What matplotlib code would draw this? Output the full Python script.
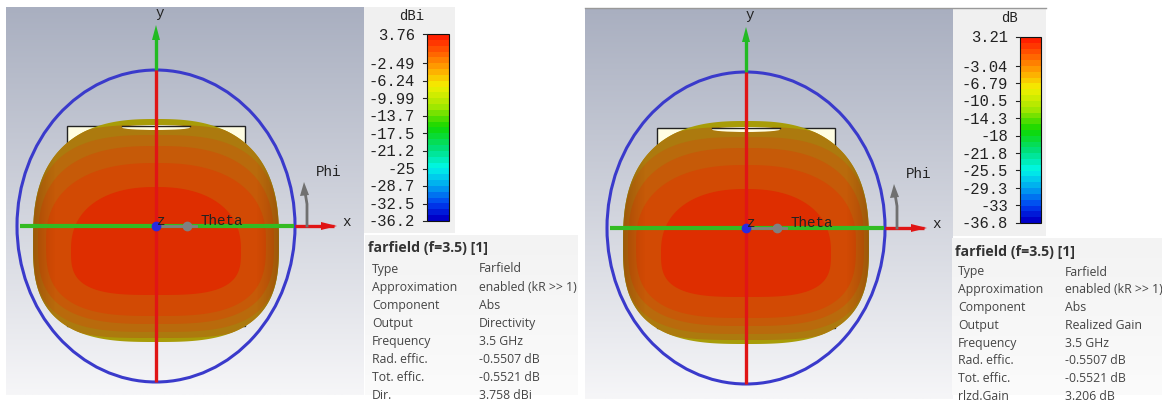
import numpy as np
import matplotlib
matplotlib.use("Agg")
import matplotlib.pyplot as plt
from matplotlib.colors import LinearSegmentedColormap, Normalize, to_rgb
from matplotlib.patches import Ellipse, Polygon, Rectangle

left_unit = "dBi"
left_ticks = ["3.76", "-2.49", "-6.24", "-9.99", "-13.7", "-17.5", "-21.2", "-25", "-28.7", "-32.5", "-36.2"]
right_unit = "dB"
right_ticks = ["3.21", "-3.04", "-6.79", "-10.5", "-14.3", "-18", "-21.8", "-25.5", "-29.3", "-33", "-36.8"]

# info tables
info_title = "farfield (f=3.5) [1]"
left_names = ["Type", "Approximation", "Component", "Output", "Frequency", "Rad. effic.", "Tot. effic.", "Dir."]
left_values = ["Farfield", "enabled (kR >> 1)", "Abs", "Directivity", "3.5 GHz", "-0.5507 dB", "-0.5521 dB", "3.758 dBi"]
right_names = ["Type", "Approximation", "Component", "Output", "Frequency", "Rad. effic.", "Tot. effic.", "rlzd.Gain"]
right_values = ["Farfield", "enabled (kR >> 1)", "Abs", "Realized Gain", "3.5 GHz", "-0.5507 dB", "-0.5521 dB", "3.206 dB"]

# scale colours, bottom of the bar first
scale_colors = ["#0000c8", "#0040f0", "#00a8f0", "#00f8e8", "#00e080", "#10d800", "#a8e800",
                "#f4f000", "#ffa800", "#ff6a00", "#ff2000"]
scale_stops = [0, 0.08, 0.18, 0.28, 0.38, 0.5, 0.62, 0.73, 0.82, 0.9, 1]
blob_colors = ["#a89c08", "#ac7a0e", "#b96a0c", "#c65a08", "#d24a04", "#de2e00"]

MONO = "Liberation Mono"
SANS = "Open Sans"

fig = plt.figure(figsize=(11.62, 4.03), dpi=100)
ax = fig.add_axes([0, 0, 1, 1])
ax.axis("off")

scale_cmap = LinearSegmentedColormap.from_list("farfield", list(zip(scale_stops, scale_colors)), N=32)


def gradient(x0, x1, y0, y1, top, bottom, z=0):
    # vertical colour ramp
    t = np.linspace(0, 1, 256)[:, None, None]
    img = np.array(to_rgb(top)) * (1 - t) + np.array(to_rgb(bottom)) * t
    return ax.imshow(img, extent=(x0, x1, y1, y0), aspect="auto", zorder=z)


def blob(cx, cy, half_w, up, down, n_up, n_down):
    # rounded outline, upper and lower halves have their own height and squareness
    a = np.linspace(0, 2 * np.pi, 400)
    c, s = np.cos(a), np.sin(a)
    n = np.where(s < 0, n_up, n_down)
    x = np.sign(c) * np.abs(c) ** (2 / n) * half_w
    y = np.sign(s) * np.abs(s) ** (2 / n)
    y = np.where(y < 0, y * up, y * down)
    return np.column_stack([cx + x, cy + y])


def globe(dx, dy):
    cx, cy = 156 + dx, 226 + dy
    wy = 242 + dy

    # substrate behind the pattern
    ax.add_patch(Rectangle((67 + dx, 126 + dy), 178, 200, fc="#fffde2", ec="#222222", lw=1, zorder=2))

    # half width, shift, up, down, top and bottom squareness of each band
    layers = [(123, 0, 123, 100, 2.6, 2.9), (123, 0, 117, 96, 3.4, 3.6), (122, 0, 107, 90, 2.9, 3.2),
              (118, 0, 96, 82, 2.6, 3.0), (110, 0, 79, 74, 2.4, 3.0), (85, 8, 63, 45, 2.3, 3.2)]
    outer = None
    for i, (w, shift, up, down, n_up, n_down) in enumerate(layers):
        poly = Polygon(blob(cx, wy + shift, w, up, down, n_up, n_down), fc=blob_colors[i], ec="none", zorder=3 + i * 0.1)
        ax.add_patch(poly)
        if i == 0:
            outer = poly
        else:
            poly.set_clip_path(outer)

    # darker towards the rim
    yy, xx = np.mgrid[-1:1:200j, -1:1:200j]
    shade = np.zeros((200, 200, 4))
    shade[..., 0] = 0.3
    shade[..., 1] = 0.12
    shade[..., 3] = np.clip((np.abs(xx) ** 4 - 0.45) * 0.45, 0, 0.3)
    im = ax.imshow(shade, extent=(cx - 123, cx + 123, wy + 100, wy - 123), aspect="auto", zorder=4)
    im.set_clip_path(outer)

    # slot in the top of the pattern
    ax.add_patch(Ellipse((cx, 127.5 + dy), 68, 5, fc="#fffde2", ec="none", zorder=5))
    ax.plot([cx - 34, cx + 34], [126 + dy, 126 + dy], color="#222222", lw=1, zorder=5)

    # far field circle
    ax.add_patch(Ellipse((cx, cy), 278, 312, fc="none", ec="#3a3acb", lw=2.2, zorder=6))

    # axes
    ax.plot([cx, cx], [cy - 156, cy - 188], color="#22bb22", lw=2.4, zorder=7, solid_capstyle="butt")
    ax.add_patch(Polygon([(cx, cy - 201), (cx - 4, cy - 186), (cx + 4, cy - 186)], fc="#22bb22", ec="none", zorder=7))
    ax.plot([cx, cx], [cy - 156, cy + 156], color="#e01515", lw=2.4, zorder=7, solid_capstyle="butt")
    ax.plot([cx + 139, cx + 178], [cy, cy], color="#e01515", lw=2.4, zorder=7, solid_capstyle="butt")
    ax.add_patch(Polygon([(cx + 181, cy), (cx + 165, cy - 4), (cx + 165, cy + 4)], fc="#e01515", ec="none", zorder=7))
    ax.plot([cx - 136, cx + 138], [cy, cy], color="#33bb22", lw=3, zorder=7, solid_capstyle="butt")

    # theta and phi markers
    ax.plot([cx, cx + 40], [cy, cy], color="#808080", lw=2, zorder=8)
    ax.plot(cx + 31, cy, "o", color="#808080", ms=6, zorder=8)
    ax.plot(cx, cy, "o", color="#2a2ae0", ms=6, zorder=9)
    ax.plot([cx + 151, cx + 151, cx + 149], [cy, cy - 22, cy - 34], color="#707070", lw=2, zorder=8)
    ax.add_patch(Polygon([(cx + 148, cy - 44), (cx + 144, cy - 30), (cx + 153, cy - 31)], fc="#707070", ec="none", zorder=8))

    for label, x, y in [("y", cx + 4, cy - 213), ("x", cx + 191, cy - 4), ("Phi", cx + 173, cy - 54),
                        ("Theta", cx + 66, cy - 5), ("z", cx + 5, cy - 5)]:
        ax.text(x, y, label, family=MONO, fontsize=10.3, color="#222222", ha="center", va="center", zorder=10)


def scale(x0, x1, y0, y1, unit, unit_x, unit_y, ticks):
    values = [float(t) for t in ticks]
    norm = Normalize(values[-1], values[0])
    img = np.linspace(values[0], values[-1], 256)[:, None]
    ax.imshow(img, extent=(x0, x1, y1, y0), aspect="auto", cmap=scale_cmap, norm=norm,
              interpolation="nearest", zorder=3)
    ax.add_patch(Rectangle((x0, y0), x1 - x0, y1 - y0, fc="none", ec="#111111", lw=0.8, zorder=4))
    for t, v in zip(ticks, values):
        y = y0 + (values[0] - v) / (values[0] - values[-1]) * (y1 - y0)
        ax.plot([x0 - 4, x0], [y, y], color="#222222", lw=0.8, zorder=4)
        ax.text(x0 - 12, y + 1, t, family=MONO, fontsize=11.2, color="#222222", ha="right", va="center", zorder=4)
    ax.text(unit_x, unit_y, unit, family=MONO, fontsize=10, color="#222222", ha="center", va="center", zorder=4)


def info(title_x, title_y, name_x, value_x, row_y, row_h, names, values):
    ax.text(title_x, title_y, info_title, family=SANS, fontsize=10.2, fontweight="bold", color="#333333", va="center", zorder=4)
    for i, (n, v) in enumerate(zip(names, values)):
        y = row_y + i * row_h
        ax.text(name_x, y, n, family=SANS, fontsize=8.8, color="#444444", va="center", zorder=4)
        ax.text(value_x, y, v, family=SANS, fontsize=8.8, color="#444444", va="center", zorder=4)


# left view
gradient(6, 364, 7, 395, "#a9afc0", "#f6f6f8")
ax.add_patch(Rectangle((364, 7), 91, 226, fc="#f0f0f0", ec="none", zorder=1))
gradient(365, 578, 235, 395, "#f3f3f3", "#fbfbfb", z=1)
globe(0, 0)
scale(427, 449, 34, 221, left_unit, 412, 16, left_ticks)
info(368, 248, 372, 479, 269, 18.1, left_names, left_values)

# right view
gradient(585, 953, 8, 399, "#a9afc0", "#f6f6f8")
ax.plot([585, 1046], [8, 8], color="#999999", lw=1, zorder=2)
ax.add_patch(Rectangle((953, 8), 93, 228, fc="#f0f0f0", ec="none", zorder=1))
gradient(952, 1162, 238, 395, "#f3f3f3", "#fbfbfb", z=1)
globe(590, 2)
scale(1020, 1041, 37, 223, right_unit, 1009, 18, right_ticks)
info(955, 252, 958, 1065, 272, 17.8, right_names, right_values)

ax.set_xlim(0, 1162)
ax.set_ylim(403, 0)
fig.savefig("out.png", dpi=100, facecolor="white")
